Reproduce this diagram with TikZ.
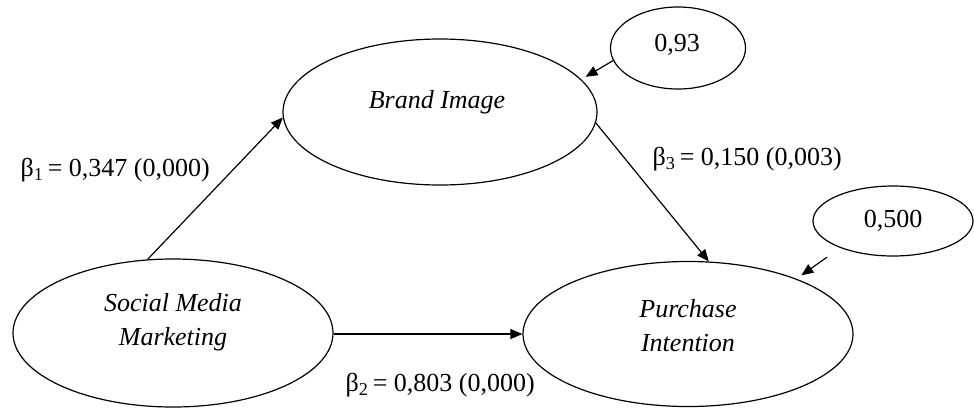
\documentclass[tikz,border=0pt]{standalone}
\usepackage{fontspec}
\setmainfont{Liberation Serif}
\usetikzlibrary{shapes.geometric,arrows.meta}
\begin{document}
\begin{tikzpicture}[x=1pt,y=-1pt, line width=1.2pt,
  lat/.style={ellipse, draw, inner sep=0pt},
  txt/.style={font=\fontsize{26}{34}\selectfont\itshape, align=center},
  num/.style={font=\fontsize{26}{34}\selectfont},
  arr/.style={-{Triangle[length=12pt,width=10pt]}}]
\useasboundingbox (0,0) rectangle (974,408);
% latent ellipses
\node[lat, minimum width=314pt, minimum height=146pt] (bi) at (440,112) {};
\node[lat, minimum width=320pt, minimum height=148pt] (smm) at (173,333) {};
\node[lat, minimum width=330pt, minimum height=145pt] (pi) at (688,334) {};
\node[lat, minimum width=135pt, minimum height=82pt] (e93) at (678,48) {};
\node[lat, minimum width=160pt, minimum height=70pt] (e500) at (893,221) {};
% texts
\node[txt] (tbi) at (437,102) {Brand Image};
\node[txt] (tsmm) at (173,322) {Social Media\\Marketing};
\node[txt] (tpi) at (688,326) {Purchase\\Intention};
\node[num] (t93) at (677,45) {0,93};
\node[num] (t500) at (893,221) {0,500};
% paths
\draw[arr] (smm.109) -- (bi.182);
\draw[arr] (smm.east |- pi.west) -- (pi.west);
\draw[arr] (bi.-4) -- (pi.74.5);
\draw[arr, shorten >=5pt] (e93.191) -- (bi.13.5);
\draw[arr, shorten <=16pt, shorten >=6pt] (e500.207) -- (pi.27);
% coefficient labels
\node[num, anchor=west, inner sep=0pt] (b1) at (20,170) {β\textsubscript{1}\,= 0,347 (0,000)};
\node[num, anchor=west, inner sep=0pt] (b2) at (345,385) {β\textsubscript{2}\,= 0,803 (0,000)};
\node[num, anchor=west, inner sep=0pt] (b3) at (652,159) {β\textsubscript{3}\,= 0,150 (0,003)};
\end{tikzpicture}
\end{document}
